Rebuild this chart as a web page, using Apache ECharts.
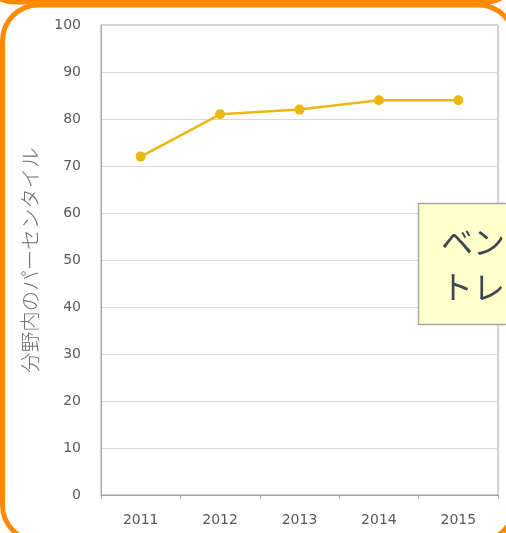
<!DOCTYPE html>
<html>
<head>
<meta charset="utf-8">
<script src="https://cdn.jsdelivr.net/npm/echarts@6/dist/echarts.min.js"></script>
<style>
html,body{margin:0;padding:0;background:#fff;}
#chart{width:506px;height:533px;}
</style>
</head>
<body>
<div id="chart"></div>
<script>
const years = ['2011', '2012', '2013', '2014', '2015'];
const percentiles = [72, 81, 82, 84, 84];
const yAxisTitle = '分野内のパーセンタイル';
const calloutLines = ['ベンチマーク', 'トレンド'];

const chart = echarts.init(document.getElementById('chart'));
chart.setOption({
  animation: false,
  backgroundColor: '#ffffff',
  grid: {
    left: 101, right: 8, top: 25, bottom: 38,
    show: true, borderColor: '#a6a6a6', borderWidth: 1
  },
  xAxis: {
    type: 'category',
    data: years,
    boundaryGap: true,
    axisLine: { lineStyle: { color: '#a6a6a6' } },
    axisTick: { show: true, length: 4, lineStyle: { color: '#a6a6a6' } },
    axisLabel: { color: '#595959', fontSize: 14, margin: 18, fontFamily: 'DejaVu Sans' }
  },
  yAxis: {
    type: 'value',
    min: 0, max: 100, interval: 10,
    name: yAxisTitle,
    nameLocation: 'middle',
    nameGap: 61,
    nameTextStyle: { color: '#707070', fontSize: 20.5, fontFamily: 'Noto Sans CJK JP', fontWeight: 300 },
    axisLine: { show: true, lineStyle: { color: '#a6a6a6' } },
    axisTick: { show: false },
    splitLine: { lineStyle: { color: '#d9d9d9' } },
    axisLabel: { color: '#595959', fontSize: 14, margin: 20, fontFamily: 'DejaVu Sans' }
  },
  series: [{
    type: 'line',
    data: percentiles,
    symbol: 'circle',
    symbolSize: 10,
    lineStyle: { color: '#EDB712', width: 2.5 },
    itemStyle: { color: '#EDB712' }
  }],
  graphic: [
    {
      type: 'rect', z: 100,
      shape: { x: -20, y: -200, width: 540, height: 202, r: 35 },
      style: { fill: 'none', stroke: '#FF8A00', lineWidth: 5 }
    },
    {
      type: 'rect', z: 100,
      shape: { x: 2.5, y: 5, width: 512, height: 536, r: 36 },
      style: { fill: 'none', stroke: '#FF8A00', lineWidth: 5 }
    },
    {
      type: 'rect', z: 50,
      shape: { x: 418.5, y: 203.5, width: 140, height: 121 },
      style: { fill: '#FFFFCC', stroke: '#a6a6a6', lineWidth: 1.5 }
    },
    {
      type: 'text', z: 51,
      left: 441, top: 219,
      style: {
        text: calloutLines.join('\n'),
        fontSize: 32, lineHeight: 45,
        fill: '#404650',
        fontFamily: 'Noto Sans CJK JP'
      }
    }
  ]
});
</script>
</body>
</html>
